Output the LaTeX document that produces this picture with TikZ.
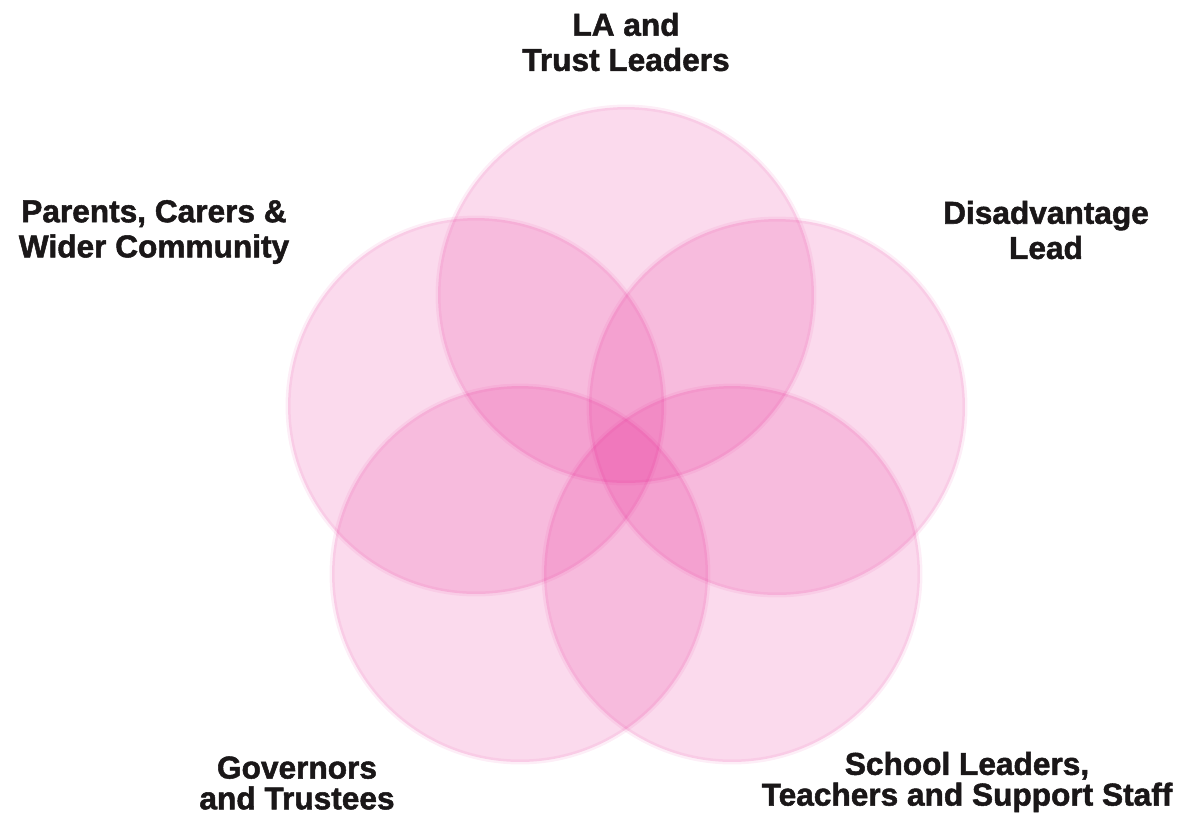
\documentclass[tikz,border=0pt]{standalone}
\usepackage{fontspec}
\setmainfont{Liberation Sans}[BoldFeatures={FakeBold=1.6}]
\usepackage{tikz}
\usetikzlibrary{positioning}
\definecolor{petal}{RGB}{228,20,138}
\definecolor{ink}{RGB}{26,23,24}

\begin{document}
\begin{tikzpicture}[x=0.02cm, y=-0.02cm,
    ring/.style={circle, minimum size=7.52cm, inner sep=0pt, fill=petal, fill opacity=0.155, draw=petal, draw opacity=0.07, line width=0.1cm},
    group/.style={align=center, inner sep=0pt, text=ink, font=\fontsize{18}{20}\selectfont\bfseries}]
         \useasboundingbox (0,0) rectangle (1185,816);

         % Define circles
         \node[ring] (la) at (626,295) {};
         \node[ring] (lead) at (777,407) {};
         \node[ring] (school) at (732,574) {};
         \node[ring] (gov) at (520,574) {};
         \node[ring] (parents) at (476,406) {};

         % Labels
         \node[group] (laname) at (626,42) {LA and\\Trust Leaders};
         \node[group] (leadname) at (1046,230) {Disadvantage\\Lead};
         \node[group, font=\fontsize{18}{17.5}\selectfont\bfseries] (schoolname) at (967,782) {School Leaders,\\Teachers and Support Staff};
         \node[group, font=\fontsize{18}{17.5}\selectfont\bfseries] (govname) at (297,783) {Governors\\and Trustees};
         \node[group] (parentsname) at (154,232) {Parents, Carers \&\\Wider Community};
       \end{tikzpicture}
\end{document}
